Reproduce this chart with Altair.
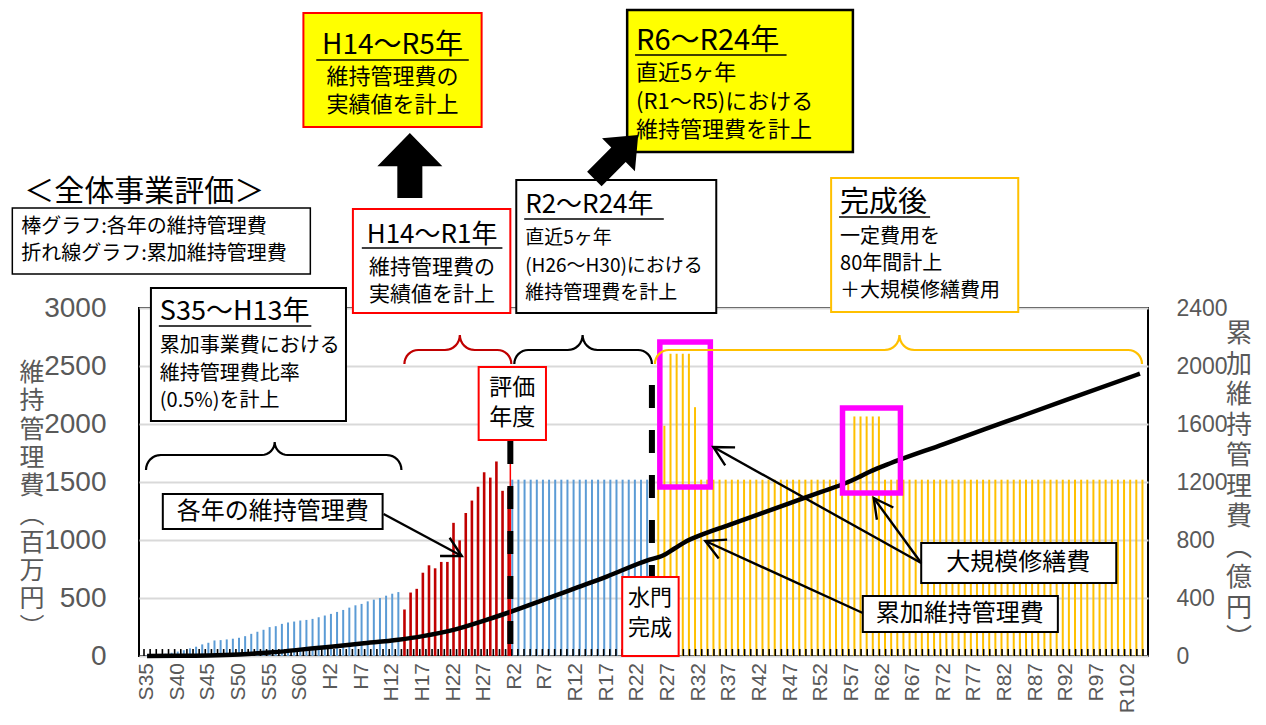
import math
import altair as alt
import pandas as pd

# ---------------- data (百万円 per year) ----------------
early_years = list(range(1960, 2002))          # S35–H13
early_cost = [5, 10, 15, 20, 28, 38, 50, 66,
              80, 100, 114, 134, 137, 143, 149, 157, 171, 191,
              209, 226, 249, 257, 277, 289, 297, 306, 311, 320,
              334, 349, 363, 380, 397, 417, 437, 449, 471, 486,
              500, 520, 537, 551]
red_years = list(range(2002, 2020))            # H14–R1
red_cost = [401, 547, 579, 718, 782, 756, 811, 811, 1148, 997,
            1233, 1340, 1459, 1584, 1538, 1677, 1424, 1450]
mid_years = list(range(2020, 2043))            # R2–R24
mid_cost = [1520, 1520, 1520, 1520, 1520, 1520, 1520, 1520, 1520, 1520,
            1520, 1520, 1520, 1520, 1520, 1520, 1520, 1520, 1520, 1520,
            1520, 1520, 1520]
late_years = list(range(2043, 2123))           # R25–R104
late_cost = [1520, 1985, 2606, 2606, 2606, 2606, 2145, 1520, 1520, 1520,
             1520, 1520, 1520, 1520, 1520, 1520, 1520, 1520, 1520, 1520,
             1520, 1520, 1520, 1520, 1520, 1520, 1520, 1520, 1520, 1520,
             1520, 1520, 2065, 2065, 2065, 2065, 2065, 1520, 1520, 1520,
             1520, 1520, 1520, 1520, 1520, 1520, 1520, 1520, 1520, 1520,
             1520, 1520, 1520, 1520, 1520, 1520, 1520, 1520, 1520, 1520,
             1520, 1520, 1520, 1520, 1520, 1520, 1520, 1520, 1520, 1520,
             1520, 1520, 1520, 1520, 1520, 1520, 1520, 1520, 1520, 1520]

# cumulative maintenance cost (億円)
cum_years = [1960, 1965, 1970, 1975, 1980, 1985, 1990, 1995, 2001, 2005, 2010, 2015, 2019,
             2025, 2030, 2035, 2042, 2044, 2046, 2048, 2050, 2055, 2060, 2065, 2070, 2074,
             2076, 2078, 2080, 2090, 2100, 2110, 2122]
cum_cost = [0, 1, 4, 11, 24, 44, 64, 86, 112, 137, 180, 244, 300,
            392, 470, 548, 665, 690, 740, 792, 828, 904, 980, 1056, 1132, 1193,
            1231, 1272, 1308, 1462, 1614, 1766, 1947]

tick_years = list(range(1960, 2121, 5))
tick_labels = ["S35", "S40", "S45", "S50", "S55", "S60", "H2", "H7", "H12", "H17", "H22", "H27",
               "R2", "R7", "R12", "R17", "R22", "R27", "R32", "R37", "R42", "R47", "R52", "R57",
               "R62", "R67", "R72", "R77", "R82", "R87", "R92", "R97", "R102"]
left_ticks = [0, 500, 1000, 1500, 2000, 2500, 3000]
right_ticks = [0, 400, 800, 1200, 1600, 2000, 2400]

# vertical-writing axis titles (vertical presentation forms for the brackets)
left_title = "維持管理費︵百万円︶"
right_title = "累加維持管理費︵億円︶"

# ---------------- layout ----------------
W, H = 1009, 348
PX0, PY0 = 139, 308
XD = [1959.5, 2122.5]
YD = [0, 3000]


def X(px):
    return XD[0] + (px - PX0) * (XD[1] - XD[0]) / W


def Y(py):
    return YD[1] - (py - PY0) * (YD[1] - YD[0]) / H


xs = alt.Scale(domain=XD, nice=False, zero=False)
ys = alt.Scale(domain=YD, nice=False, zero=False)
yr = alt.Scale(domain=[0, 2400], nice=False, zero=False)

JP = "Noto Sans CJK JP"
NUM = "Liberation Sans"
GRAY = "#595959"

x_axis = alt.Axis(values=tick_years, labels=False, ticks=False, tickSize=0, domain=True,
                  domainColor="#000000", domainWidth=3, grid=False, title=None)
yl_axis = alt.Axis(values=left_ticks, format="d", labelFont=NUM, labelFontSize=28, labelColor=GRAY,
                   labelPadding=33, ticks=False, tickSize=0, domain=False, grid=True,
                   gridColor="#D9D9D9", gridWidth=2, title=None)
yr_axis = alt.Axis(orient="right", values=right_ticks, format="d", labelFont=NUM, labelFontSize=23,
                   labelColor=GRAY, labelPadding=28, ticks=False, tickSize=0, domain=False,
                   grid=False, title=None)

all_years = early_years + red_years + mid_years + late_years
bars_df = pd.DataFrame({
    "year": all_years,
    "cost": early_cost + red_cost + mid_cost + late_cost,
    "seg": ["early"] * len(early_years) + ["red"] * len(red_years)
           + ["mid"] * len(mid_years) + ["late"] * len(late_years),
})


def bar_layer(seg, color, size, off, axes=False):
    return (alt.Chart(bars_df).transform_filter(alt.datum.seg == seg)
            .mark_bar(color=color, size=size, xOffset=off)
            .encode(x=alt.X("year:Q", scale=xs, axis=x_axis if axes else None),
                    y=alt.Y("cost:Q", scale=ys, axis=yl_axis if axes else None)))


def exy(**kw):
    d = dict(x=alt.X("x:Q", scale=xs, axis=None), y=alt.Y("y:Q", scale=ys, axis=None))
    d.update(kw)
    return d


layers = [
    bar_layer("early", "#5B9BD5", 2, 0, axes=True),
    bar_layer("red", "#C00000", 2.6, 0),
    bar_layer("mid", "#5B9BD5", 2, -2.5),
    bar_layer("late", "#FFC000", 2, 2.5),
]

# inward tick marks at category boundaries
tick_df = pd.DataFrame({"b": [XD[0]] + [y + 0.5 for y in all_years]})
tick_df["y0"] = 0
tick_df["y1"] = 60
layers.append(alt.Chart(tick_df).mark_rule(color="#000000", strokeWidth=1.6).encode(
    x=alt.X("b:Q", scale=xs, axis=None), y=alt.Y("y0:Q", scale=ys, axis=None), y2="y1:Q"))

# x tick labels (era names), rotated
xl_df = pd.DataFrame({"year": tick_years, "lab": tick_labels})
layers.append(alt.Chart(xl_df).mark_text(angle=270, align="right", baseline="middle", font=NUM,
                                         fontSize=21, color=GRAY, dx=2).encode(
    x=alt.X("year:Q", scale=xs, axis=None), y=alt.value(665 - PY0), text="lab:N"))

# cumulative line (right axis)
cum_df = pd.DataFrame({"year": cum_years, "v": cum_cost})
layers.append(alt.Chart(cum_df).mark_line(color="#000000", strokeWidth=4.5, interpolate="monotone").encode(
    x=alt.X("year:Q", scale=xs, axis=None), y=alt.Y("v:Q", scale=yr, axis=yr_axis)))

# red leader & dashed year lines
red_rule = pd.DataFrame([{"x": X(509), "y": Y(440), "y2": Y(656)}])
layers.append(alt.Chart(red_rule).mark_rule(color="#FF0000", strokeWidth=1.5).encode(**exy(y2="y2:Q")))
dash_df = pd.DataFrame([{"x": X(509), "y": Y(441), "y2": Y(656)},
                        {"x": X(652), "y": Y(385), "y2": Y(656)}])
layers.append(alt.Chart(dash_df).mark_rule(color="#000000", strokeWidth=6, strokeDash=[23, 22]).encode(
    **exy(y2="y2:Q")))

# braces and arrows as polylines
brace_rows = []
arrow_rows = []
gid = [0]


def add_poly(rows, pts, col):
    g = gid[0]
    gid[0] += 1
    for i, (px, py) in enumerate(pts):
        rows.append({"g": g, "i": i, "x": X(px), "y": Y(py), "col": col})


def arc(cx, cy, r, a0, a1, n=8):
    return [(cx + r * math.cos(a0 + (a1 - a0) * k / n), cy + r * math.sin(a0 + (a1 - a0) * k / n))
            for k in range(n + 1)]


def brace(x0, x1, xm, yh, d, p, col):
    pts = []
    pts += arc(x0 + d, yh + d, d, math.pi, 1.5 * math.pi)
    pts += arc(xm - p, yh - p, p, 0.5 * math.pi, 0)
    pts += arc(xm + p, yh - p, p, math.pi, 0.5 * math.pi)
    pts += arc(x1 - d, yh + d, d, 1.5 * math.pi, 2 * math.pi)
    add_poly(brace_rows, pts, col)


def arrow(sx, sy, tx, ty, col="#000000", L=22, half=28):
    add_poly(arrow_rows, [(sx, sy), (tx, ty)], col)
    ang = math.atan2(sy - ty, sx - tx)
    h = math.radians(half)
    a1 = (tx + L * math.cos(ang - h), ty + L * math.sin(ang - h))
    a2 = (tx + L * math.cos(ang + h), ty + L * math.sin(ang + h))
    add_poly(arrow_rows, [a1, (tx, ty), a2], col)


brace(141, 399, 271, 455, 15, 13, "#000000")
brace(402, 510, 458, 350, 14, 15, "#C00000")
brace(513, 652, 582, 350, 14, 15, "#000000")
brace(655, 1147, 902, 350, 14, 15, "#FFC000")
arrow(381, 514, 460, 556)
arrow(924, 563, 714, 447)
arrow(924, 563, 876, 498)
arrow(865, 613, 706, 541)

# magenta highlight boxes
mag_df = pd.DataFrame([{"x": X(660), "x2": X(711), "y": Y(342), "y2": Y(487)},
                       {"x": X(844.5), "x2": X(903), "y": Y(408), "y2": Y(493)}])
layers.append(alt.Chart(mag_df).mark_rect(fillOpacity=0, stroke="#FF00FF", strokeWidth=5.5).encode(
    **exy(x2="x2:Q", y2="y2:Q")))

layers.append(alt.Chart(pd.DataFrame(brace_rows)).mark_line(strokeWidth=2.2, interpolate="linear").encode(
    **exy(detail="g:N", order="i:Q", color=alt.Color("col:N", scale=None))))

# text boxes
box_specs = [
    (6, 208, 307, 274, "#000000", "#FFFFFF", 1.5),
    (300, 13, 480, 127, "#FF0000", "#FFFF00", 2),
    (350, 209, 509, 313, "#FF0000", "#FFFFFF", 2),
    (515, 180, 717, 313, "#000000", "#FFFFFF", 2),
    (627, 10, 855, 152, "#000000", "#FFFF00", 2.5),
    (833, 178, 1022, 312, "#FFC000", "#FFFFFF", 2),
    (146, 288, 343, 421, "#000000", "#FFFFFF", 2),
    (158, 494, 380, 529, "#000000", "#FFFFFF", 2),
    (477, 367, 545, 440, "#FF0000", "#FFFFFF", 2),
    (622, 577, 679, 656, "#FF0000", "#FFFFFF", 2),
    (924, 543, 1121, 583, "#000000", "#FFFFFF", 2),
    (865, 596, 1062, 632, "#000000", "#FFFFFF", 2),
]
box_df = pd.DataFrame([{"x": X(a), "x2": X(c), "y": Y(b), "y2": Y(d), "stroke": s, "fill": f, "sw": w}
                       for a, b, c, d, s, f, w in box_specs])
layers.append(alt.Chart(box_df).mark_rect().encode(**exy(
    x2="x2:Q", y2="y2:Q", fill=alt.Fill("fill:N", scale=None), stroke=alt.Stroke("stroke:N", scale=None),
    strokeWidth=alt.StrokeWidth("sw:Q", scale=None))))

# annotation arrows drawn on top of boxes
layers.append(alt.Chart(pd.DataFrame(arrow_rows)).mark_line(strokeWidth=2.4, interpolate="linear").encode(
    **exy(detail="g:N", order="i:Q", color=alt.Color("col:N", scale=None))))

# texts
left_texts = [
    ("＜全体事業評価＞", 18, 192, 30),
    ("棒グラフ:各年の維持管理費", 15, 227, 20),
    ("折れ線グラフ:累加維持管理費", 15, 254, 20),
    ("R2～R24年", 524, 205, 26),
    ("直近5ヶ年", 524, 238, 19),
    ("(H26～H30)における", 524, 266, 19),
    ("維持管理費を計上", 524, 293, 19),
    ("R6～R24年", 636, 41, 29),
    ("直近5ヶ年", 636, 73, 22),
    ("(R1～R5)における", 636, 102, 22),
    ("維持管理費を計上", 636, 130, 22),
    ("完成後", 842, 203, 29),
    ("一定費用を", 842, 237, 20),
    ("80年間計上", 842, 264, 20),
    ("＋大規模修繕費用", 842, 291, 20),
    ("S35～H13年", 155, 312, 27),
    ("累加事業費における", 155, 346, 20),
    ("維持管理費比率", 155, 374, 20),
    ("(0.5%)を計上", 155, 401, 20),
]
center_texts = [
    ("H14～R5年", 390, 46, 28),
    ("維持管理費の", 390, 77, 22),
    ("実績値を計上", 390, 105, 22),
    ("H14～R1年", 430, 235, 26),
    ("維持管理費の", 430, 268, 21),
    ("実績値を計上", 430, 295, 21),
    ("各年の維持管理費", 269, 512, 24),
    ("評価", 511, 388, 23),
    ("年度", 511, 418, 23),
    ("水門", 650, 598, 22),
    ("完成", 650, 628, 22),
    ("大規模修繕費", 1022, 563, 24),
    ("累加維持管理費", 963, 614, 24),
]


def text_df(items):
    return pd.DataFrame([{"t": t, "x": X(px), "y": Y(py), "fs": fs} for t, px, py, fs in items])


layers.append(alt.Chart(text_df(left_texts)).mark_text(font=JP, align="left", baseline="middle",
                                                        color="#000000").encode(
    **exy(text="t:N", size=alt.Size("fs:Q", scale=None))))
layers.append(alt.Chart(text_df(center_texts)).mark_text(font=JP, align="center", baseline="middle",
                                                          color="#000000").encode(
    **exy(text="t:N", size=alt.Size("fs:Q", scale=None))))

# underlines of box titles
ul_specs = [(313, 467, 60), (359, 501, 248), (523, 664, 219), (635, 788, 55), (841, 933, 217),
            (154, 308, 326)]
ul_df = pd.DataFrame([{"x": X(a), "x2": X(b), "y": Y(c)} for a, b, c in ul_specs])
layers.append(alt.Chart(ul_df).mark_rule(color="#000000", strokeWidth=1.6).encode(**exy(x2="x2:Q")))

# block arrows
up_df = pd.DataFrame([{"x": X(407.5), "y": Y(165.5)}])
layers.append(alt.Chart(up_df).mark_point(
    shape="M0,-1 L1,0.02 L0.385,0.02 L0.385,1 L-0.385,1 L-0.385,0.02 L-1,0.02 Z",
    filled=True, color="#000000", opacity=1, size=4225, strokeWidth=0).encode(**exy()))
dg_df = pd.DataFrame([{"x": X(616), "y": Y(157)}])
layers.append(alt.Chart(dg_df).mark_point(
    shape="M0,-1 L0.75,-0.1 L0.33,-0.1 L0.33,1 L-0.33,1 L-0.33,-0.1 L-0.75,-0.1 Z",
    filled=True, color="#000000", opacity=1, size=3844, angle=45, strokeWidth=0).encode(**exy()))

# vertical axis titles: one multi-line text each (one character per line, first line centred at y)
L_LH, R_LH = 28.3, 30.5
lt = list(left_title)
rt = list(right_title)
lt_df = pd.DataFrame([{"x": X(26), "y": Y(373)}])
rt_df = pd.DataFrame([{"x": X(1245), "y": Y(334)}])
layers.append(alt.Chart(lt_df).mark_text(text=lt, lineHeight=L_LH, font=JP, fontSize=25, color=GRAY,
                                         align="center", baseline="middle").encode(**exy()))
layers.append(alt.Chart(rt_df).mark_text(text=rt, lineHeight=R_LH, font=JP, fontSize=26, color=GRAY,
                                         align="center", baseline="middle").encode(**exy()))

chart = (alt.layer(*layers)
         .resolve_scale(y="independent")
         .properties(width=W, height=H, autosize=alt.AutoSizeParams(type="none"),
                     padding={"left": 131, "top": 300, "right": 110, "bottom": 60})
         .configure(background="#FFFFFF")
         .configure_view(stroke="#000000", strokeWidth=2))

chart.save("out.html", embed_options={"renderer": "svg", "actions": False})
